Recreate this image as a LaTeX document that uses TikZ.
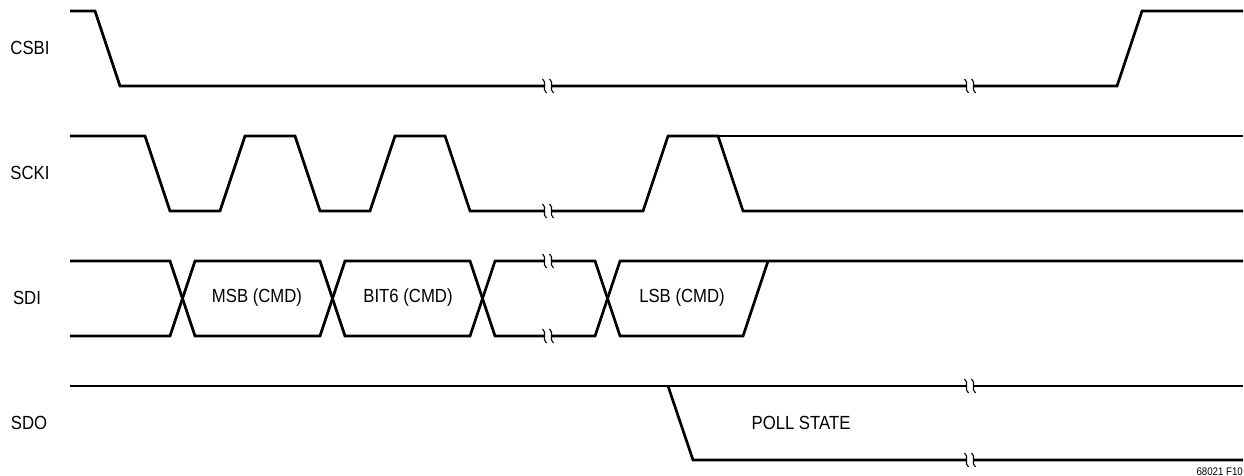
\documentclass[tikz,border=0pt]{standalone}
\usepackage{fontspec}
\setmainfont{Liberation Sans}[FakeStretch=0.88]
\begin{document}
\begin{tikzpicture}[x=1pt,y=-1pt,
  wave/.style={line width=2.7pt, line join=miter, line cap=butt},
  sig/.style={font=\fontsize{19}{20}\selectfont, inner sep=0pt, anchor=center},
  lbl/.style={font=\fontsize{19}{20}\selectfont, inner sep=0pt, anchor=center},
  tiny/.style={font=\fontsize{11}{12}\selectfont, inner sep=0pt, anchor=south east}]
\useasboundingbox (0,0) rectangle (1244,476);
\fill[white] (0,0) rectangle (1244,476);
% break symbol
\newcommand{\brk}[2]{%
  \fill[white] (#1-3.0,#2-2.5) rectangle (#1+3.0,#2+2.5);
  \draw[line width=1.1pt] (#1-5.5,#2-7) .. controls (#1-0.5,#2-4) and (#1-6.5,#2+4) .. (#1-1.5,#2+7);
  \draw[line width=1.1pt] (#1+1.5,#2-7) .. controls (#1+6.5,#2-4) and (#1+0.5,#2+4) .. (#1+5.5,#2+7);
}
% labels
\node[sig] (lcs) at (30,48) {CSBI};
\node[sig] (lck) at (30,173) {SCKI};
\node[sig] (ldi) at (27,298) {SDI};
\node[sig] (ldo) at (29,423) {SDO};
% CSBI
\draw[wave] (70,11) -- (95,11) -- (120,86) -- (1117,86) -- (1142,11) -- (1243,11);
% SCKI
\draw[wave] (70,136) -- (145,136) -- (170,211) -- (220,211) -- (245,136) -- (295,136)
  -- (320,211) -- (370,211) -- (395,136) -- (445,136) -- (470,211) -- (643,211)
  -- (668,136) -- (718,136) -- (743,211) -- (1243,211);
\draw[wave] (718,136) -- (1243,136);
% SDI
\draw[wave] (70,261) -- (170,261) -- (195,336) -- (320,336) -- (345,261) -- (470,261)
  -- (495,336) -- (595,336) -- (620,261) -- (1243,261);
\draw[wave] (70,336) -- (170,336) -- (195,261) -- (320,261) -- (345,336) -- (470,336)
  -- (495,261) -- (595,261) -- (620,336) -- (743,336) -- (768,261);
\node[lbl] (msb) at (257,298) {MSB (CMD)};
\node[lbl] (bit6) at (408,298) {BIT6 (CMD)};
\node[lbl] (lsb) at (682,298) {LSB (CMD)};
% SDO
\draw[wave] (70,386) -- (1243,386);
\draw[wave] (668,386) -- (693,460) -- (1243,460);
\node[lbl] (poll) at (801,423) {POLL STATE};
% breaks
\brk{548}{86}
\brk{970}{86}
\brk{548}{211}
\brk{548}{261}
\brk{548}{336}
\brk{970}{386}
\brk{970}{460}
% figure id
\node[tiny] (fid) at (1243,476) {68021 F10};
\end{tikzpicture}
\end{document}
